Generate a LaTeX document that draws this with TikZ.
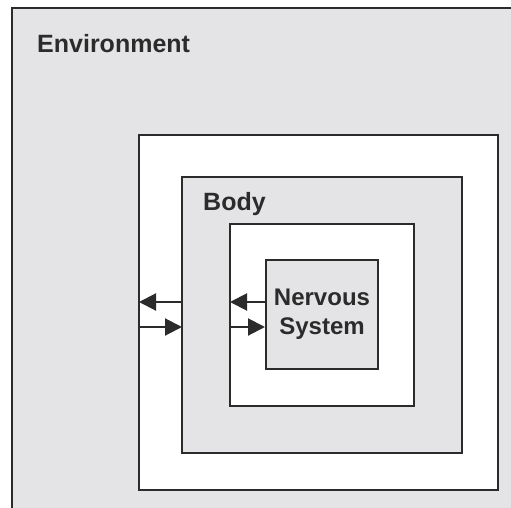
\documentclass[tikz,border=0pt]{standalone}
\usepackage{fontspec}
\setmainfont{Liberation Sans}
\usetikzlibrary{arrows.meta}
\definecolor{envgray}{HTML}{E4E4E6}
\definecolor{ink}{HTML}{2B2B2B}
\begin{document}
\begin{tikzpicture}[x=1pt,y=-1pt,
  layer/.style={draw=ink,line width=2pt},
  flow/.style={draw=ink,line width=2pt,-{Triangle[length=17pt,width=17pt]}},
  label/.style={font=\bfseries\fontsize{25}{29}\selectfont,text=ink,inner sep=0pt}]
  \useasboundingbox (0,0) rectangle (511,508);
  % environment frame (open to the right and bottom)
  \fill[envgray] (12,8) rectangle (511,508);
  \draw[layer] (511,8) -- (12,8) -- (12,508);
  % nested layers
  \draw[layer,fill=white] (139,135) rectangle (498,490);
  \draw[layer,fill=envgray] (182,177) rectangle (462,453);
  \draw[layer,fill=white] (230,224) rectangle (414,406);
  \node[layer,fill=envgray,minimum width=112pt,minimum height=109pt,inner sep=0pt,
        align=center,font=\bfseries\fontsize{24}{29}\selectfont,text=ink] (ns) at (322,314.5) {Nervous\\System};
  % labels
  \node[label,anchor=base west] (env) at (37,53) {Environment};
  \node[label,anchor=base west] (body) at (203,210) {Body};
  % exchange arrows
  \coordinate (oL) at (139,302);
  \coordinate (oR) at (182,302);
  \coordinate (oL2) at (139,327);
  \coordinate (oR2) at (182,327);
  \coordinate (iL) at (230,302);
  \coordinate (iL2) at (230,327);
  \draw[flow] (oR) -- (oL);
  \draw[flow] (oL2) -- (oR2);
  \draw[flow] (ns.west |- iL) -- (iL);
  \draw[flow] (iL2) -- (ns.west |- iL2);
\end{tikzpicture}
\end{document}
